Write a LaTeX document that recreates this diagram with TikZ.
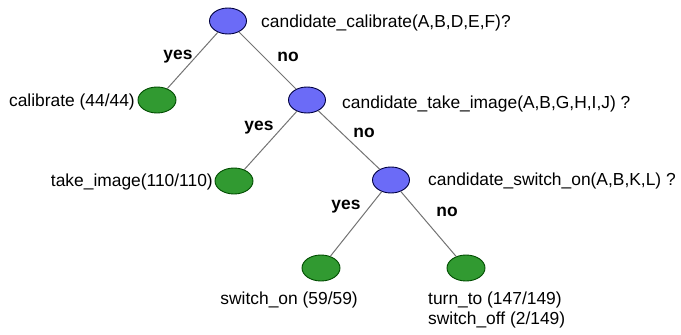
\documentclass[tikz,border=0pt]{standalone}
\usepackage{fontspec}
\setmainfont{Liberation Sans}
\usetikzlibrary{shapes.geometric}
\definecolor{testblue}{HTML}{6B6BF7}
\definecolor{leafgreen}{HTML}{319A31}
\tikzset{
  test/.style={ellipse, draw=black!75!blue, fill=testblue, line width=0.9pt,
    minimum width=37pt, minimum height=26pt, inner sep=0pt},
  leaf/.style={ellipse, draw=black!70!green, fill=leafgreen, line width=0.9pt,
    minimum width=38pt, minimum height=26pt, inner sep=0pt},
  branch/.style={draw=black!55, line width=1pt},
  lbl/.style={font=\fontsize{17.4}{20}\selectfont, inner sep=0pt},
  ans/.style={font=\fontsize{17.4}{20}\selectfont\bfseries, inner sep=0pt}
}
\begin{document}
\begin{tikzpicture}[x=1pt, y=-1pt]
\useasboundingbox (0,0) rectangle (681,335);
% decision nodes
\node[test] (q1) at (228,21) {};
\node[test] (q2) at (307,100) {};
\node[test] (q3) at (391,180) {};
% leaves
\node[leaf] (l1) at (157,100) {};
\node[leaf] (l2) at (234,181) {};
\node[leaf] (l3) at (321,268) {};
\node[leaf] (l4) at (466,268) {};
% branches
\draw[branch] (q1) -- (l1);
\draw[branch] (q1) -- (q2);
\draw[branch] (q2) -- (l2);
\draw[branch] (q2) -- (q3);
\draw[branch] (q3) -- (l3);
\draw[branch] (q3) -- (l4);
% questions
\node[lbl, anchor=west] (t1) at (261,23) {candidate\_calibrate(A,B,D,E,F)?};
\node[lbl, anchor=west] (t2) at (342,104) {candidate\_take\_image(A,B,G,H,I,J) ?};
\node[lbl, anchor=west] (t3) at (428,181) {candidate\_switch\_on(A,B,K,L) ?};
% leaf labels
\node[lbl, anchor=east] (c1) at (135,102) {calibrate (44/44)};
\node[lbl, anchor=east] (c2) at (213,182) {take\_image(110/110)};
\node[lbl, anchor=east] (c3) at (358,300) {switch\_on (59/59)};
\node[lbl, anchor=north west, align=left, font=\fontsize{17.4}{20}\selectfont] (c4) at (428,292) {turn\_to (147/149)\\switch\_off (2/149)};
% answers
\node[ans] (a1) at (178,57) {yes};
\node[ans] (a2) at (288,57) {no};
\node[ans] (a3) at (259,128) {yes};
\node[ans] (a4) at (364,133) {no};
\node[ans] (a5) at (346,207) {yes};
\node[ans] (a6) at (447,212) {no};
\end{tikzpicture}
\end{document}
